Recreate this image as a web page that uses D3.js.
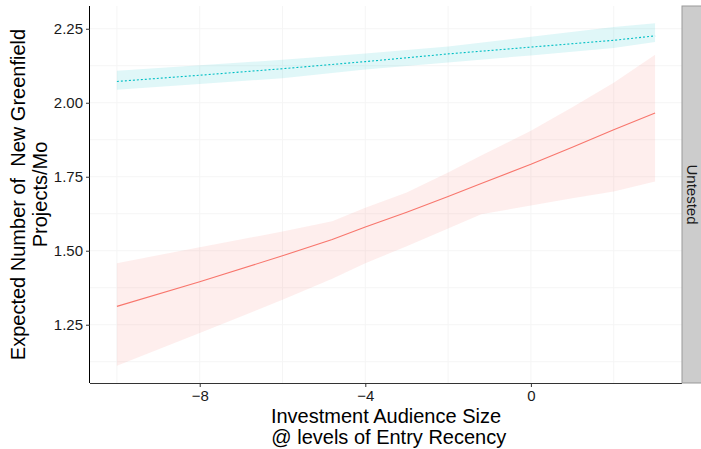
<!DOCTYPE html>
<html>
<head>
<meta charset="utf-8">
<script src="https://cdn.jsdelivr.net/npm/d3@7"></script>
<style>
  body { margin: 0; background: #fff; }
  text { font-family: "Liberation Sans", Arial, sans-serif; }
</style>
</head>
<body>
<div id="chart"></div>
<script>
// values
let redX     = [-10, -8, -6, -4.8, -4, -3, -2, -1.2, 0, 1, 2, 3];
let redFit   = [1.312, 1.395, 1.483, 1.538, 1.580, 1.630, 1.683, 1.727, 1.792, 1.850, 1.909, 1.965];
let redUpper = [1.458, 1.512, 1.565, 1.600, 1.645, 1.697, 1.764, 1.822, 1.905, 1.985, 2.068, 2.162];
let redLower = [1.111, 1.222, 1.334, 1.405, 1.458, 1.515, 1.575, 1.623, 1.653, 1.677, 1.700, 1.734];

let cyanX     = [-10, -8, -6, -4, -2, 0, 2, 3];
let cyanFit   = [2.072, 2.093, 2.115, 2.139, 2.165, 2.188, 2.211, 2.226];
let cyanUpper = [2.108, 2.127, 2.145, 2.166, 2.190, 2.223, 2.256, 2.269];
let cyanLower = [2.044, 2.063, 2.083, 2.112, 2.136, 2.160, 2.185, 2.205];

let xTicks = [-8, -4, 0];
let xMinor = [-10, -6, -2, 2];
let yTicks = [1.25, 1.50, 1.75, 2.00, 2.25];
let yMinor = [1.125, 1.375, 1.625, 1.875, 2.125];

let stripLabel = "Untested";

let width = 701, height = 449;
let panel = {left: 90, right: 682, top: 6, bottom: 383};

let svg = d3.select("#chart").append("svg")
    .attr("width", width)
    .attr("height", height);

// ggplot style 5% expansion
let xPad = (3 - -10) * 0.05;
let x = d3.scaleLinear()
    .domain([-10 - xPad, 3 + xPad])
    .range([panel.left, panel.right]);

let yMin = 1.111, yMax = 2.269;
let yPad = (yMax - yMin) * 0.05;
let y = d3.scaleLinear()
    .domain([yMin - yPad, yMax + yPad])
    .range([panel.bottom, panel.top]);

// grid
let grid = svg.append("g");
grid.selectAll(".gx")
    .data(xTicks.concat(xMinor))
    .enter().append("line")
    .attr("x1", d => x(d)).attr("x2", d => x(d))
    .attr("y1", panel.top).attr("y2", panel.bottom)
    .attr("stroke", "#f5f5f5").attr("stroke-width", 1);
grid.selectAll(".gy")
    .data(yTicks.concat(yMinor))
    .enter().append("line")
    .attr("y1", d => y(d)).attr("y2", d => y(d))
    .attr("x1", panel.left).attr("x2", panel.right)
    .attr("stroke", "#f5f5f5").attr("stroke-width", 1);

function series(xs, fit, up, lo) {
    return xs.map((d, i) => ({x: d, fit: fit[i], up: up[i], lo: lo[i]}));
}
let red = series(redX, redFit, redUpper, redLower);
let cyan = series(cyanX, cyanFit, cyanUpper, cyanLower);

let ribbon = d3.area()
    .x(d => x(d.x))
    .y0(d => y(d.lo))
    .y1(d => y(d.up));
let line = d3.line()
    .x(d => x(d.x))
    .y(d => y(d.fit));

svg.append("path").datum(red)
    .attr("d", ribbon)
    .attr("fill", "#F8766D").attr("fill-opacity", 0.12);
svg.append("path").datum(cyan)
    .attr("d", ribbon)
    .attr("fill", "#00BFC4").attr("fill-opacity", 0.12);

svg.append("path").datum(red)
    .attr("d", line)
    .attr("fill", "none")
    .attr("stroke", "#F8766D").attr("stroke-width", 1.1);
svg.append("path").datum(cyan)
    .attr("d", line)
    .attr("fill", "none")
    .attr("stroke", "#00BFC4").attr("stroke-width", 1.1)
    .attr("stroke-dasharray", "2,2");

// axes
let xAxis = svg.append("g")
    .attr("transform", `translate(0,${panel.bottom})`)
    .call(d3.axisBottom(x).tickValues(xTicks).tickSize(4).tickPadding(3)
        .tickFormat(d => d < 0 ? "\u2212" + Math.abs(d) : d));
xAxis.select(".domain").attr("d", `M${panel.left},0.5H${panel.right}`).attr("stroke", "#333");
xAxis.selectAll(".tick line").attr("stroke", "#333");
xAxis.selectAll("text").attr("font-size", 15).attr("fill", "#1a1a1a")
    .attr("font-family", "Liberation Sans, Arial, sans-serif");

let yAxis = svg.append("g")
    .attr("transform", `translate(${panel.left},0)`)
    .call(d3.axisLeft(y).tickValues(yTicks).tickSize(4).tickPadding(3)
        .tickFormat(d3.format(".2f")));
yAxis.select(".domain").attr("d", `M-0.5,${panel.top}V${panel.bottom}`).attr("stroke", "#000");
yAxis.selectAll(".tick line").attr("stroke", "#333");
yAxis.selectAll("text").attr("font-size", 15).attr("fill", "#1a1a1a")
    .attr("font-family", "Liberation Sans, Arial, sans-serif");

// strip
svg.append("rect")
    .attr("x", panel.right).attr("y", panel.top)
    .attr("width", width - panel.right + 2).attr("height", panel.bottom - panel.top)
    .attr("fill", "#cccccc").attr("stroke", "#999").attr("stroke-width", 1);
svg.append("text")
    .attr("transform", `translate(${panel.right + 5},${(panel.top + panel.bottom) / 2}) rotate(90)`)
    .attr("text-anchor", "middle")
    .attr("font-size", 15).attr("fill", "#1a1a1a")
    .text(stripLabel);

// titles
let cx = (panel.left + panel.right) / 2;
svg.append("text")
    .attr("x", cx).attr("y", 423)
    .attr("text-anchor", "middle").attr("font-size", 20)
    .text("Investment Audience Size");
svg.append("text")
    .attr("x", cx).attr("y", 444)
    .attr("text-anchor", "middle").attr("font-size", 20)
    .attr("xml:space", "preserve")
    .text(" @ levels of Entry Recency");

let cy = (panel.top + panel.bottom) / 2;
svg.append("text")
    .attr("transform", `translate(25,${cy}) rotate(-90)`)
    .attr("text-anchor", "middle").attr("font-size", 20)
    .attr("xml:space", "preserve")
    .text("Expected Number of  New Greenfield");
svg.append("text")
    .attr("transform", `translate(47,${cy}) rotate(-90)`)
    .attr("text-anchor", "middle").attr("font-size", 20)
    .text("Projects/Mo");
</script>
</body>
</html>
